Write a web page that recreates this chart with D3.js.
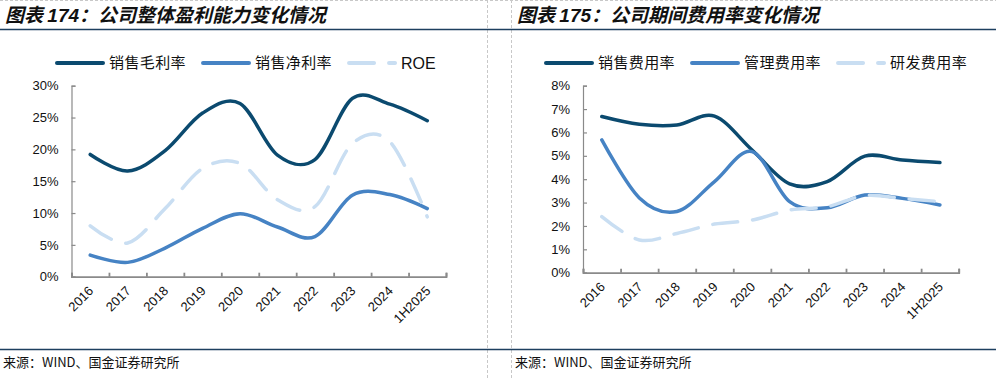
<!DOCTYPE html>
<html>
<head>
<meta charset="utf-8">
<script src="https://cdn.jsdelivr.net/npm/d3@7"></script>
<style>
  html, body { margin:0; padding:0; background:#fff; }
  svg { display:block; }
  .cn { font-family:"Noto Sans CJK SC", sans-serif; }
  .num { font-family:"Liberation Sans", Arial, sans-serif; }
</style>
</head>
<body>
<div id="view"></div>
<script>
(function(){
/* ===================== DATA ===================== */
const years = ["2016","2017","2018","2019","2020","2021","2022","2023","2024","1H2025"];

// chart 174 (%)
const grossMargin = [19.2, 16.6, 19.8, 25.7, 27.2, 19.1, 18.4, 28.0, 27.1, 24.5];
const netMargin   = [3.4, 2.25, 4.5, 7.6, 9.9, 7.8, 6.3, 12.8, 12.9, 10.7];
const roe         = [8.0, 5.3, 10.7, 17.0, 17.8, 12.1, 11.0, 20.9, 21.2, 9.4];
const leftTicks   = [0, 5, 10, 15, 20, 25, 30];

// chart 175 (%)
const sellingRate = [6.68, 6.35, 6.32, 6.70, 5.25, 3.80, 3.90, 4.99, 4.82, 4.71];
const adminRate   = [5.68, 3.20, 2.62, 3.90, 5.18, 3.04, 2.78, 3.32, 3.18, 2.90];
const rdRate      = [2.40, 1.40, 1.68, 2.08, 2.25, 2.68, 2.82, 3.30, 3.18, 3.04];
const rightTicks  = [0, 1, 2, 3, 4, 5, 6, 7, 8];

/* ===================== STYLE ===================== */
const C_DARK  = "#0b4a6f";
const C_MID   = "#4683c4";
const C_LIGHT = "#c9def2";
const AXIS_C  = "#8a8a8a";
const RULE_C  = "#1d3f5f";
const DASH    = "25 15";

const W = 996, H = 380;
const svg = d3.select("#view").append("svg").attr("width", W).attr("height", H);

/* ===================== FRAME ===================== */
// dashed page borders
svg.append("line").attr("x1",0).attr("x2",W).attr("y1",0.5).attr("y2",0.5)
  .attr("stroke","#c8c8c8").attr("stroke-dasharray","3 2");
[487.5, 511.5].forEach(x=>{
  svg.append("line").attr("x1",x).attr("x2",x).attr("y1",0).attr("y2",H)
    .attr("stroke","#c8c8c8").attr("stroke-dasharray","3 2");
});
// title & source rules
svg.append("line").attr("x1",0).attr("x2",W).attr("y1",29.5).attr("y2",29.5)
  .attr("stroke",RULE_C).attr("stroke-width",1.3);
svg.append("line").attr("x1",0).attr("x2",W).attr("y1",349.5).attr("y2",349.5)
  .attr("stroke",RULE_C).attr("stroke-width",1.3);

/* ===================== PANEL ===================== */
function drawPanel(o){
  const g = svg.append("g");

  // title
  const t = g.append("text").attr("class","cn")
    .attr("x",o.left).attr("y",22)
    .style("font-size","19px").style("font-weight","bold").style("font-style","italic")
    .attr("fill","#111");
  t.append("tspan").text("图表 ");
  t.append("tspan").attr("class","num").text(o.num);
  t.append("tspan").text("：" + o.title);

  // source
  g.append("text").attr("class","cn")
    .attr("x",o.left - 2).attr("y",367)
    .style("font-size","13px").attr("fill","#111")
    .text("来源：WIND、国金证券研究所");

  // scales
  const x = d3.scaleBand().domain(years).range(o.xRange);
  const xi = d3.scaleLinear().domain([0, years.length]).range(o.xRange);
  const y = d3.scaleLinear().domain([0, d3.max(o.ticks)]).range(o.yRange);
  const cx = d => x(d) + x.bandwidth()/2;

  // y axis (ticks inside)
  const ya = g.append("g").attr("transform",`translate(${o.xRange[0]},0)`)
    .call(d3.axisLeft(y).tickValues(o.ticks).tickSize(-4).tickPadding(13).tickFormat(d => d + "%"));
  ya.selectAll("path,line").attr("stroke",AXIS_C).attr("stroke-width",1.2);
  ya.selectAll("text").attr("class","num").style("font-size","13px").attr("fill","#111");

  // x axis: ticks between categories
  const xa = g.append("g").attr("transform",`translate(0,${o.yRange[0]})`)
    .call(d3.axisBottom(xi).tickValues(d3.range(0, years.length + 1)).tickSize(-4).tickFormat(""));
  xa.selectAll("path,line").attr("stroke",AXIS_C).attr("stroke-width",1.8);

  g.selectAll("text.xlab").data(years).join("text")
    .attr("class","xlab num")
    .attr("text-anchor","end")
    .attr("transform", d => `translate(${cx(d)+4},${o.yRange[0]+15}) rotate(-45)`)
    .style("font-size","13px").attr("fill","#111")
    .text(d => d);

  // lines
  const line = d3.line()
    .x((v,i) => cx(years[i]))
    .y(v => y(v))
    .curve(d3.curveCardinal.tension(0));

  g.selectAll("path.series").data(o.series).join("path")
    .attr("class","series")
    .attr("d", s => line(s.values))
    .attr("fill","none")
    .attr("stroke", s => s.color)
    .attr("stroke-width",3.5)
    .attr("stroke-linecap","round")
    .attr("stroke-dasharray", s => s.dash || null);

  // legend
  let lx = o.legendX;
  const ly = 63;
  o.series.forEach(s=>{
    g.append("line").attr("x1",lx+2).attr("x2",lx+48).attr("y1",ly).attr("y2",ly)
      .attr("stroke",s.color).attr("stroke-width",4).attr("stroke-linecap","round")
      .attr("stroke-dasharray", s.dash || null);
    const tx = g.append("text")
      .attr("class", /^[A-Z]+$/.test(s.name) ? "num" : "cn")
      .attr("x",lx+54).attr("y",ly).attr("dy","0.36em")
      .style("font-size", /^[A-Z]+$/.test(s.name) ? "16px" : "15px")
      .style("letter-spacing", /^[A-Z]+$/.test(s.name) ? null : "0.4px")
      .attr("fill","#111").text(s.name);
    lx += 54 + tx.node().getComputedTextLength() + 15;
  });
}

drawPanel({
  left: 5, num: "174", title: "公司整体盈利能力变化情况",
  xRange: [71.5, 446], yRange: [276.7, 85.7], ticks: leftTicks, legendX: 55,
  series: [
    { name:"销售毛利率", values: grossMargin, color: C_DARK },
    { name:"销售净利率", values: netMargin,   color: C_MID },
    { name:"ROE",        values: roe,         color: C_LIGHT, dash: DASH }
  ]
});

drawPanel({
  left: 517, num: "175", title: "公司期间费用率变化情况",
  xRange: [583, 958.7], yRange: [272.7, 85.7], ticks: rightTicks, legendX: 544,
  series: [
    { name:"销售费用率", values: sellingRate, color: C_DARK },
    { name:"管理费用率", values: adminRate,   color: C_MID },
    { name:"研发费用率", values: rdRate,      color: C_LIGHT, dash: DASH }
  ]
});
})();
</script>
</body>
</html>
